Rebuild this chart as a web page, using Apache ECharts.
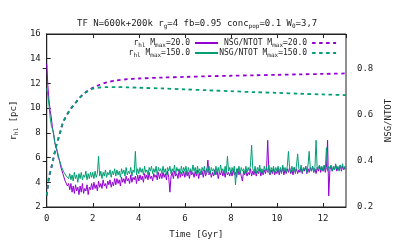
<!DOCTYPE html>
<html><head><meta charset="utf-8">
<script src="https://cdn.jsdelivr.net/npm/echarts@6/dist/echarts.min.js"></script>
<style>html,body{margin:0;padding:0;background:#fff}#c{width:407px;height:244px}</style>
</head><body><div id="c"></div>
<script>
// time grid [Gyr]
const T = [
 0,0.05,0.1,0.15,0.2,0.25,0.3,0.35,0.4,0.45,0.5,0.55,0.6,0.65,0.7,0.75,0.8,0.85,0.9,0.95,
 1,1.05,1.1,1.15,1.2,1.25,1.3,1.35,1.4,1.45,1.5,1.55,1.6,1.65,1.7,1.75,1.8,1.85,1.9,1.95,
 2,2.05,2.1,2.15,2.2,2.25,2.3,2.35,2.4,2.45,2.5,2.55,2.6,2.65,2.7,2.75,2.8,2.85,2.9,2.95,
 3,3.05,3.1,3.15,3.2,3.25,3.3,3.35,3.4,3.45,3.5,3.55,3.6,3.65,3.7,3.75,3.8,3.85,3.9,3.95,
 4,4.05,4.1,4.15,4.2,4.25,4.3,4.35,4.4,4.45,4.5,4.55,4.6,4.65,4.7,4.75,4.8,4.85,4.9,4.95,
 5,5.05,5.1,5.15,5.2,5.25,5.3,5.35,5.4,5.45,5.5,5.55,5.6,5.65,5.7,5.75,5.8,5.85,5.9,5.95,
 6,6.05,6.1,6.15,6.2,6.25,6.3,6.35,6.4,6.45,6.5,6.55,6.6,6.65,6.7,6.75,6.8,6.85,6.9,6.95,
 7,7.05,7.1,7.15,7.2,7.25,7.3,7.35,7.4,7.45,7.5,7.55,7.6,7.65,7.7,7.75,7.8,7.85,7.9,7.95,
 8,8.05,8.1,8.15,8.2,8.25,8.3,8.35,8.4,8.45,8.5,8.55,8.6,8.65,8.7,8.75,8.8,8.85,8.9,8.95,
 9,9.05,9.1,9.15,9.2,9.25,9.3,9.35,9.4,9.45,9.5,9.55,9.6,9.65,9.7,9.75,9.8,9.85,9.9,9.95,
 10,10.05,10.1,10.15,10.2,10.25,10.3,10.35,10.4,10.45,10.5,10.55,10.6,10.65,10.7,10.75,10.8,10.85,10.9,10.95,
 11,11.05,11.1,11.15,11.2,11.25,11.3,11.35,11.4,11.45,11.5,11.55,11.6,11.65,11.7,11.75,11.8,11.85,11.9,11.95,
 12,12.05,12.1,12.15,12.2,12.25,12.3,12.35,12.4,12.45,12.5,12.55,12.6,12.65,12.7,12.75,12.8,12.85,12.9,12.95,
 13
];
// r_hl [pc], Mmax = 20
const RHL20 = [
 13.6,11.8,10.6,9.8,9.2,8.4,7.9,7.2,6.8,6.5,6.0,5.8,5.3,5.2,4.7,4.6,4.1,4.2,3.7,3.9,
 3.4,3.9,3.2,3.7,3.1,3.8,3.3,3.6,3.0,3.7,3.2,3.9,3.1,3.5,3.3,3.8,3.0,3.6,3.4,3.9,
 3.4,4.0,3.5,3.8,3.3,4.1,3.6,3.9,3.5,4.2,3.7,3.9,3.5,4.1,3.8,4.2,3.6,4.0,3.7,4.3,
 3.8,4.3,3.9,4.2,3.7,4.4,4.0,4.3,3.9,4.5,4.1,4.3,3.9,4.6,4.0,4.4,4.2,4.5,3.9,4.6,
 4.1,4.6,4.2,4.5,4.0,4.7,4.3,4.6,4.2,4.8,4.3,4.5,4.1,4.7,4.4,4.6,4.2,4.8,4.3,4.7,
 4.3,4.8,4.4,4.7,4.2,4.9,4.4,3.2,4.5,4.8,4.3,4.9,4.5,4.7,4.3,5.0,4.4,4.8,4.5,4.9,
 4.4,4.9,4.5,4.8,4.3,5.0,4.6,4.8,4.4,4.9,4.5,5.0,4.3,4.8,4.6,4.9,4.4,5.0,4.5,4.8,
 5.8,4.6,4.9,4.4,4.8,4.5,5.0,4.6,4.9,4.3,4.8,4.6,5.0,4.5,4.9,4.4,5.0,4.6,4.8,4.5,
 4.9,4.5,5.0,4.6,4.8,4.4,5.1,4.6,4.9,4.5,4.1,4.9,4.6,5.0,4.5,4.8,4.6,5.1,4.5,4.9,
 4.6,5.0,4.5,4.9,4.7,5.1,4.5,4.9,4.6,5.0,4.7,5.1,7.4,4.8,4.6,5.0,4.7,5.1,4.6,4.9,
 4.7,5.1,4.6,5.0,4.8,5.2,4.6,5.0,4.7,5.1,4.8,5.2,4.7,5.0,4.6,5.2,4.8,5.1,4.7,5.0,
 4.8,5.2,4.7,5.1,4.9,5.3,4.7,5.1,4.8,5.2,4.9,5.3,4.8,5.1,4.7,5.2,4.9,5.3,4.8,5.2,
 4.9,5.3,4.8,5.2,7.4,2.9,5.0,5.3,4.9,5.2,5.0,5.4,4.9,5.2,5.0,5.4,4.9,5.3,5.0,5.2,
 5.1
];
// r_hl [pc], Mmax = 150
const RHL150 = [
 11.6,11.0,10.2,9.2,8.6,8.3,7.9,7.2,7.0,6.6,6.2,5.8,5.5,5.2,5.0,4.8,4.7,4.5,4.6,4.3,
 4.7,4.2,4.6,4.1,4.8,4.3,4.6,4.0,4.7,4.3,4.8,4.2,4.6,4.4,4.9,4.2,4.7,4.3,4.8,4.4,
 4.8,4.3,4.9,4.4,4.7,6.1,4.5,4.9,4.3,4.8,4.5,5.0,4.4,4.8,4.6,5.0,4.4,4.9,4.6,5.1,
 4.5,5.0,4.6,4.9,4.4,5.1,4.7,5.0,4.5,5.2,4.6,4.9,4.7,5.2,4.5,5.0,4.8,6.5,4.6,5.1,
 4.7,5.2,4.8,5.1,4.6,5.3,4.8,5.0,4.6,5.2,4.9,5.3,4.7,5.1,4.8,5.3,4.6,5.2,4.9,5.1,
 4.7,5.3,4.8,5.1,4.6,5.2,4.9,5.3,4.7,5.1,4.8,5.4,4.6,5.2,4.9,5.1,4.7,5.3,4.8,5.2,
 4.9,5.3,4.6,5.2,4.8,5.1,4.7,5.4,4.9,5.2,4.7,5.3,4.8,5.1,4.6,5.2,4.9,5.3,4.7,5.1,
 4.8,5.3,4.7,5.2,4.9,5.1,4.6,5.3,4.8,5.2,4.7,5.4,4.9,5.1,4.7,5.3,4.8,6.1,4.9,5.2,
 4.7,5.2,4.9,5.3,3.8,5.1,4.8,5.3,4.7,5.2,4.9,5.1,4.7,5.3,4.8,5.2,4.9,5.4,7.0,5.1,
 4.8,5.3,4.7,5.2,4.9,5.4,4.8,5.1,4.7,5.3,4.9,5.2,4.8,5.4,4.7,5.2,4.9,5.3,4.8,5.2,
 4.9,5.3,4.8,5.2,4.7,5.4,4.9,5.2,4.8,5.3,6.5,5.1,4.8,5.3,4.9,5.2,4.7,5.4,6.3,5.1,
 4.9,5.4,4.8,5.2,5.0,5.3,4.8,5.4,6.5,5.1,4.9,5.3,4.8,5.2,7.4,5.0,4.9,5.4,5.0,5.3,
 4.9,5.4,5.0,6.8,4.9,5.3,5.1,5.4,4.9,5.3,5.0,5.5,5.1,5.3,4.9,5.4,5.1,5.5,5.0,5.3,
 5.2
];
// NSG/NTOT curves
const TN = [0,0.1,0.2,0.3,0.4,0.5,0.6,0.7,0.8,1.0,1.2,1.4,1.6,1.8,2.0,2.3,2.6,3.0,3.5,4,5,6,7,8,9,10,11,12,13];
const NSG20  = [0.25,0.33,0.37,0.415,0.46,0.495,0.53,0.565,0.585,0.62,0.645,0.67,0.69,0.705,0.717,0.73,0.74,0.748,0.754,0.757,0.761,0.764,0.767,0.769,0.771,0.773,0.775,0.777,0.779];
const NSG150 = [0.25,0.33,0.37,0.415,0.46,0.495,0.53,0.565,0.585,0.62,0.645,0.67,0.69,0.703,0.713,0.718,0.72,0.72,0.719,0.717,0.714,0.71,0.706,0.702,0.698,0.695,0.691,0.688,0.685];

const PURPLE = '#9400d3', GREEN = '#009e73';
const FONT = 'DejaVu Sans Mono';
const TXT = '#222';
const DASH = [3.5, 3.5];
const zip = (xs, ys) => xs.map((x, i) => [x, ys[i]]);
const labels = {
  rhl20:  '{n|r}{s|hl}{n| M}{s|max}{n|=20.0}',
  rhl150: '{n|r}{s|hl}{n| M}{s|max}{n|=150.0}',
  nsg20:  '{n|NSG/NTOT M}{s|max}{n|=20.0}',
  nsg150: '{n|NSG/NTOT M}{s|max}{n|=150.0}'
};
const legRich = {
  n: {fontFamily: FONT, fontSize: 8, color: TXT, lineHeight: 10, fontWeight: 'normal'},
  s: {fontFamily: FONT, fontSize: 6, color: TXT, padding: [4, 0, 0, 0], lineHeight: 10, fontWeight: 'normal'}
};

const chart = echarts.init(document.getElementById('c'), null, {renderer: 'canvas'});
chart.setOption({
  animation: false,
  backgroundColor: '#fff',
  title: {
    text: '{n|TF N=600k+200k r}{s|g}{n|=4 fb=0.95 conc}{s|pop}{n|=0.1 W}{s|0}{n|=3,7}',
    left: 77, top: 18, padding: 0,
    textStyle: {
      fontWeight: 'normal',
      rich: {
        n: {fontFamily: FONT, fontSize: 9, color: TXT, lineHeight: 12, fontWeight: 'normal'},
        s: {fontFamily: FONT, fontSize: 6, color: TXT, padding: [5, 0, 0, 0], lineHeight: 12, fontWeight: 'normal'}
      }
    }
  },
  legend: [
    {
      data: ['rhl20', 'rhl150'], orient: 'vertical', align: 'right',
      right: 188, top: 38, padding: 0, itemGap: 0, itemWidth: 23, itemHeight: 10,
      itemStyle: {opacity: 0},
      formatter: n => labels[n], textStyle: {rich: legRich}, selectedMode: false
    },
    {
      data: [
        {name: 'nsg20', lineStyle: {type: DASH, width: 1.8}},
        {name: 'nsg150', lineStyle: {type: DASH, width: 1.8}}
      ],
      orient: 'vertical', align: 'right',
      right: 70, top: 38, padding: 0, itemGap: 0, itemWidth: 24, itemHeight: 10,
      itemStyle: {opacity: 0},
      formatter: n => labels[n], textStyle: {rich: legRich}, selectedMode: false
    }
  ],
  grid: {left: 42, right: 61, top: 34, bottom: 37, show: true, borderColor: '#222', borderWidth: 1, containLabel: false},
  xAxis: [
    {
      type: 'value', min: 0, max: 13, interval: 2,
      name: 'Time [Gyr]', nameLocation: 'middle', nameGap: 23,
      nameTextStyle: {fontFamily: FONT, fontSize: 9, color: TXT},
      axisLine: {lineStyle: {color: '#222', width: 1}},
      axisTick: {inside: true, length: 4, lineStyle: {color: '#222'}},
      axisLabel: {fontFamily: FONT, fontSize: 9, color: TXT, margin: 7, showMaxLabel: false},
      splitLine: {show: false}
    },
    {
      type: 'value', min: 0, max: 13, interval: 2, position: 'top',
      axisLine: {lineStyle: {color: '#222', width: 1}},
      axisTick: {inside: true, length: 4, lineStyle: {color: '#222'}},
      axisLabel: {show: false}, splitLine: {show: false}
    }
  ],
  yAxis: [
    {
      type: 'value', min: 2, max: 16, interval: 2,
      name: '{n|r}{s|hl}{n| [pc]}', nameLocation: 'middle', nameGap: 22, nameRotate: 90,
      nameTextStyle: {rich: {
        n: {fontFamily: FONT, fontSize: 9, color: TXT, lineHeight: 12},
        s: {fontFamily: FONT, fontSize: 6, color: TXT, padding: [5, 0, 0, 0], lineHeight: 12}
      }},
      axisLine: {show: true, lineStyle: {color: '#222', width: 1}},
      axisTick: {inside: true, length: 4, lineStyle: {color: '#222'}},
      axisLabel: {fontFamily: FONT, fontSize: 9, color: TXT, margin: 6},
      splitLine: {show: false}
    },
    {
      type: 'value', min: 0.2, max: 0.95, interval: 0.2, position: 'right',
      name: 'NSG/NTOT', nameLocation: 'middle', nameGap: 33, nameRotate: 90,
      nameTextStyle: {fontFamily: FONT, fontSize: 9, color: TXT},
      axisLine: {show: true, lineStyle: {color: '#222', width: 1}},
      axisTick: {inside: true, length: 4, lineStyle: {color: '#222'}},
      axisLabel: {fontFamily: FONT, fontSize: 9, color: TXT, margin: 11, showMaxLabel: false,
                  formatter: v => v.toFixed(1)},
      splitLine: {show: false}
    }
  ],
  series: [
    {name: 'rhl20', type: 'line', xAxisIndex: 0, yAxisIndex: 0, data: zip(T, RHL20),
     showSymbol: false, symbol: 'none', color: PURPLE, lineStyle: {width: 1, color: PURPLE}},
    {name: 'rhl150', type: 'line', xAxisIndex: 0, yAxisIndex: 0, data: zip(T, RHL150),
     showSymbol: false, symbol: 'none', color: GREEN, lineStyle: {width: 1, color: GREEN}},
    {name: 'nsg20', type: 'line', xAxisIndex: 0, yAxisIndex: 1, data: zip(TN, NSG20), smooth: 0.3,
     showSymbol: false, symbol: 'none', color: PURPLE, lineStyle: {width: 1.8, color: PURPLE, type: DASH}},
    {name: 'nsg150', type: 'line', xAxisIndex: 0, yAxisIndex: 1, data: zip(TN, NSG150), smooth: 0.3,
     showSymbol: false, symbol: 'none', color: GREEN, lineStyle: {width: 1.8, color: GREEN, type: DASH}}
  ]
});
</script></body></html>
